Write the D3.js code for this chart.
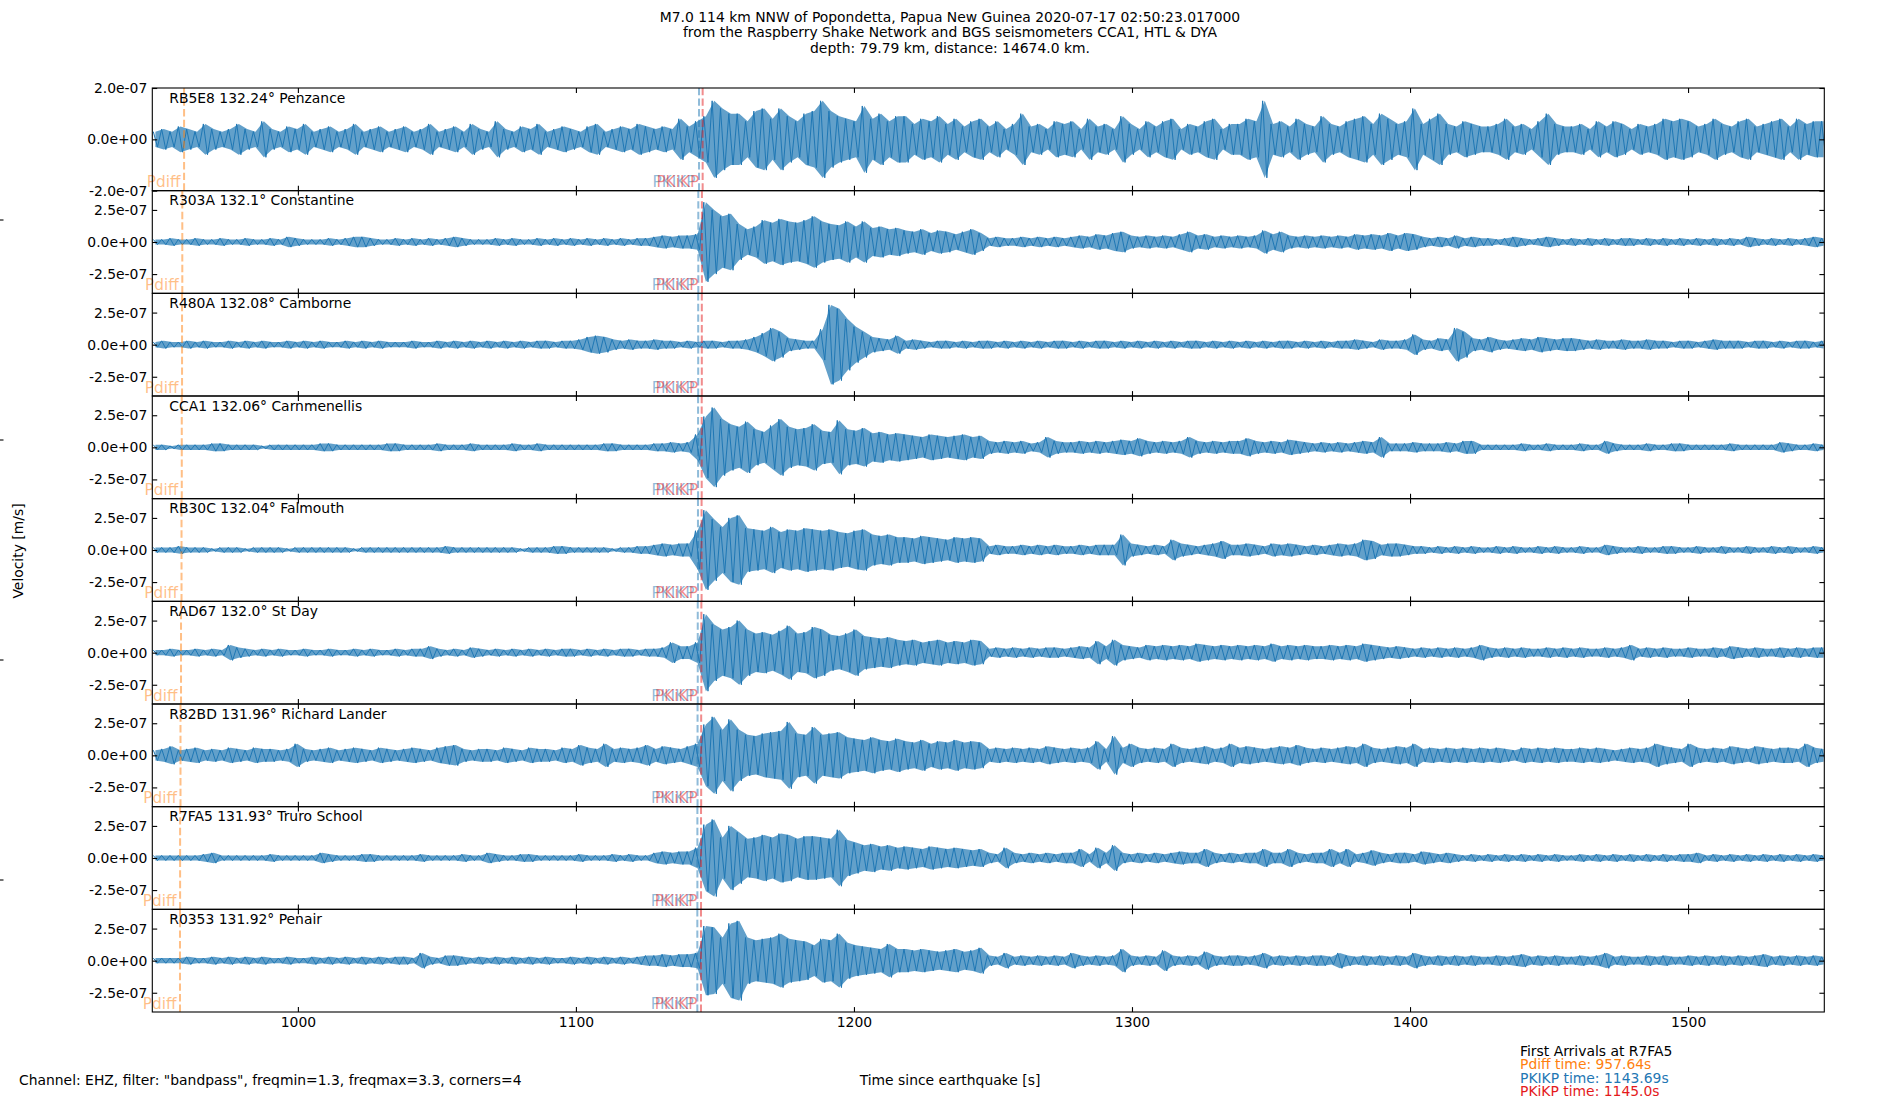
<!DOCTYPE html>
<html>
<head>
<meta charset="utf-8">
<script src="https://cdn.jsdelivr.net/npm/d3@7"></script>
<style>
  body { margin: 0; background: #fff; }
  svg text { font-family: "DejaVu Sans", sans-serif; font-size: 13.9px; }
</style>
</head>
<body>
<script>
// Stations, top to bottom
const stationLabels = [
    'RB5E8 132.24° Penzance', 'R303A 132.1° Constantine', 'R480A 132.08° Camborne',
    'CCA1 132.06° Carnmenellis', 'RB30C 132.04° Falmouth', 'RAD67 132.0° St Day',
    'R82BD 131.96° Richard Lander', 'R7FA5 131.93° Truro School', 'R0353 131.92° Penair'
];

// Arrival times per station [s]
const pdiffTimes = [959.07, 958.43, 958.34, 958.24, 958.15, 957.97, 957.78, 957.64, 957.60];
const pkikpTimes = [1144.28, 1144.02, 1143.98, 1143.94, 1143.90, 1143.82, 1143.75, 1143.69, 1143.67];
const pkikpRedTimes = [1145.58, 1145.32, 1145.28, 1145.24, 1145.20, 1145.12, 1145.05, 1145.0, 1144.98];

// y limits and ticks [m/s]
const yLimits = [2e-7, 4e-7, 4e-7, 4e-7, 4e-7, 4e-7, 4e-7, 4e-7, 4e-7];
const yTicksFirst = [-2e-7, 0, 2e-7];
const yTicksOther = [-2.5e-7, 0, 2.5e-7];
const xTicks = [1000, 1100, 1200, 1300, 1400, 1500];

// Trace envelope, peak amplitude per 3 s bin starting at 948 s, in units of 1e-8 m/s
const binStart = 948;
const binStep = 3;
const ampUnit = 1e-8;

const ampRB5E8 = [
    3,4,3,5,4,3,6,4,3,4, 6,4,3,7,4,3,5,4,6,3, 4,5,3,4,6,3,4,5,3,4, 5,3,4,6,3,4,5,3,6,4,
    3,7,4,3,5,4,6,3,4,5, 4,3,5,6,3,4,5,4,6,5, 4,5,4,8,5,7,9,15,12,10, 10,7,11,12,8,12,9,7,10,11,
    15,11,9,8,7,13,8,10,7,9, 9,6,8,7,9,6,8,5,7,8, 5,7,4,6,10,5,6,4,7,6, 7,4,8,5,6,4,9,6,4,7,
    5,7,8,4,6,5,7,8,4,6, 6,8,7,15,6,7,5,8,6,5, 9,6,5,7,8,9,6,10,8,6, 7,12,6,8,10,6,5,7,6,5,
    5,6,8,5,6,4,7,10,6,5, 5,6,4,7,5,7,6,4,6,5, 6,8,7,8,7,5,6,8,6,5, 7,8,5,6,7,8,5,8,6,7, 7
];
const ampR303A = [
    2,2,3,2,2,3,2,2,3,2, 2,3,2,2,3,2,4,3,2,2, 2,3,2,3,4,4,3,2,2,3, 2,3,2,3,2,3,4,3,2,2,
    2,3,2,3,2,2,3,2,3,2, 3,2,3,2,3,2,3,2,3,3, 4,5,4,5,5,6,31,25,20,22, 14,10,12,17,15,18,16,15,17,20,
    16,14,13,16,12,16,11,12,10,11, 9,8,10,7,9,8,6,8,10,7, 3,4,3,3,4,3,4,3,4,3, 4,5,4,6,5,7,8,5,4,5,
    4,5,4,6,8,5,6,4,5,4, 5,4,5,9,6,8,5,4,5,4, 5,4,5,4,6,5,6,5,7,5, 7,6,4,3,4,3,5,3,4,3,
    3,2,3,4,3,2,3,4,3,2, 3,2,3,2,3,2,3,3,2,3, 2,3,2,3,2,3,2,3,2,3, 2,4,3,2,3,2,3,2,3,4, 3
];
const ampR480A = [
    2,3,2,2,3,2,3,2,2,3, 2,3,2,3,2,2,3,2,3,2, 3,2,2,3,2,3,2,3,2,2, 2,3,2,2,3,2,3,2,3,2,
    3,2,3,2,3,2,3,3,2,3, 3,4,6,7,6,4,3,4,3,3, 4,3,3,2,3,2,3,3,2,3, 3,4,6,9,13,10,5,4,3,3,
    12,31,28,20,14,10,6,5,4,7, 3,4,3,2,3,3,2,3,2,3, 3,2,3,2,3,2,3,2,3,3, 2,3,2,3,3,2,3,2,3,2,
    3,2,3,2,3,3,2,3,2,3, 2,3,2,3,2,3,3,2,3,2, 3,2,3,3,4,3,2,4,3,3, 4,8,4,3,5,4,13,10,5,4,
    6,4,3,4,5,4,6,5,4,5, 5,4,3,4,3,3,4,3,3,4, 3,3,2,3,3,2,3,4,3,3, 3,2,3,3,2,3,2,3,3,2, 3
];
const ampCCA1 = [
    2,2,1,2,2,2,2,3,3,2, 2,2,2,1,2,2,2,2,2,2, 3,3,2,2,2,2,2,2,3,3, 2,2,2,2,3,2,2,2,3,2,
    2,2,2,3,2,2,3,2,2,2, 2,2,2,2,3,3,2,2,2,2, 3,3,4,3,4,10,24,31,22,18, 16,20,14,12,17,22,16,14,15,18,
    13,12,21,14,13,15,11,12,10,11, 10,9,8,10,9,8,9,10,8,9, 5,4,5,4,5,3,4,8,5,4, 4,5,4,5,4,5,6,5,7,5,
    4,5,4,5,8,5,4,5,4,5, 5,7,5,4,5,4,6,5,4,3, 4,3,4,3,4,5,4,8,3,3, 3,4,3,3,3,4,3,5,5,2,
    2,2,2,2,3,2,2,3,2,2, 2,3,2,2,5,3,2,2,2,3, 2,2,3,3,2,2,2,2,2,3, 2,2,2,2,2,4,3,2,2,3, 2
];
const ampRB30C = [
    2,2,2,3,2,2,2,1,2,2, 2,1,2,2,2,2,1,2,2,2, 2,2,2,2,1,2,2,2,2,2, 2,2,2,2,2,3,2,2,2,2,
    2,2,2,2,1,2,2,2,3,3, 2,2,2,2,2,1,2,2,3,3, 4,5,4,5,5,15,31,24,18,25, 27,17,16,15,18,14,16,15,17,16,
    15,16,14,13,15,16,12,11,12,10, 10,9,11,10,9,8,10,9,10,9, 3,4,3,3,4,3,4,3,4,3, 3,4,3,4,4,4,12,5,4,3,
    4,3,8,5,4,3,4,5,7,4, 4,5,4,3,5,4,5,4,3,4, 3,4,5,4,5,8,7,4,5,5, 4,3,3,2,3,2,3,2,3,2,
    2,3,2,3,2,2,3,2,3,2, 2,3,2,2,4,3,2,2,3,2, 2,3,3,2,2,3,2,2,3,2, 2,3,2,2,3,2,3,2,2,3, 2
];
const ampRAD67 = [
    2,2,3,2,2,3,2,3,2,6, 4,3,2,3,2,3,2,2,3,2, 2,3,2,2,3,2,3,2,2,3, 2,3,3,5,3,2,3,2,4,3,
    2,3,2,3,2,3,2,3,2,3, 3,2,3,2,3,2,3,3,2,3, 3,4,8,5,5,8,30,22,18,20, 25,18,15,16,14,17,21,15,16,20,
    18,14,13,15,18,13,12,11,12,10, 9,10,8,9,10,8,9,8,10,9, 3,4,3,4,3,4,3,4,4,3, 4,5,4,9,5,10,6,5,4,6,
    5,6,5,6,5,7,6,5,6,5, 6,5,6,5,7,5,6,5,6,5, 5,6,5,6,5,7,6,5,4,5, 4,3,4,3,4,3,4,3,4,6,
    4,3,4,3,4,3,3,4,3,4, 3,4,3,3,4,3,4,6,3,4, 3,4,3,3,4,3,3,4,3,5, 4,3,4,3,3,4,3,4,3,4, 4
];
const ampR82BD = [
    4,5,7,4,5,6,4,5,4,6, 5,4,6,5,5,4,5,9,5,4, 5,6,4,5,6,5,4,6,5,4, 5,6,5,4,6,7,8,5,4,5,
    5,4,6,5,4,6,5,5,4,6, 5,8,6,5,9,5,6,5,6,8, 5,7,6,5,7,9,24,30,20,28, 20,16,15,17,18,19,26,17,16,22,
    16,17,18,14,13,12,14,12,11,13, 11,10,12,9,11,10,12,10,11,10, 5,6,5,6,5,6,5,7,6,5, 6,5,6,11,5,15,6,9,6,5,
    6,5,9,6,5,6,7,5,6,9, 6,7,6,5,6,7,6,8,6,5, 6,5,6,7,6,9,6,5,6,7, 6,9,5,6,5,6,5,6,5,6,
    5,6,5,4,6,5,6,5,6,5, 5,6,5,6,5,4,5,6,5,6, 9,7,6,5,9,6,5,6,5,7, 6,5,7,6,5,6,6,5,9,6, 5
];
const ampR7FA5 = [
    2,2,2,2,2,2,3,4,2,2, 2,2,2,2,3,2,2,2,2,2, 4,3,2,2,2,3,3,2,2,2, 2,2,3,2,2,2,2,3,2,2,
    4,3,2,2,3,3,2,2,2,2, 2,3,2,2,2,3,2,3,2,2, 4,5,4,5,5,8,26,30,16,25, 20,15,16,18,16,19,18,15,17,17,
    16,15,22,14,12,10,11,9,10,8, 9,8,7,9,8,7,8,7,6,7, 4,3,8,4,3,4,3,4,3,4, 4,7,3,8,4,10,4,3,4,3,
    4,3,4,5,4,4,7,4,3,4, 3,4,4,7,4,4,7,4,3,4, 4,7,4,7,3,4,6,4,3,4, 4,3,5,4,3,4,3,2,3,2,
    3,2,3,2,3,2,3,2,3,2, 2,3,2,3,2,3,2,3,2,3, 2,3,2,3,3,4,2,3,2,3, 2,3,2,3,2,3,2,3,2,3, 2
];
const ampR0353 = [
    2,2,2,2,3,2,2,3,2,3, 2,3,2,3,2,2,3,2,2,3, 2,3,2,3,2,3,2,3,2,3, 3,2,6,3,2,4,4,3,2,3,
    2,3,2,3,2,3,2,3,2,2, 3,2,3,2,3,2,3,2,3,4, 4,5,4,5,5,6,27,26,18,29, 31,18,16,17,18,21,17,16,15,12,
    17,16,21,14,12,11,10,9,13,9, 9,8,9,8,7,8,9,7,8,10, 4,3,6,3,4,3,4,3,4,3, 6,4,3,4,3,4,9,4,3,4,
    3,8,4,3,4,3,7,4,3,4, 4,3,4,6,3,4,3,4,3,4, 4,3,6,4,3,4,3,4,3,4, 3,6,4,3,4,3,4,3,4,3,
    3,4,3,4,5,3,4,3,4,3, 3,4,3,4,6,3,4,3,3,4, 3,4,3,3,4,3,4,3,4,3, 4,3,4,5,3,4,3,4,3,4, 3
];
const traces = [ampRB5E8, ampR303A, ampR480A, ampCCA1, ampRB30C, ampRAD67, ampR82BD, ampR7FA5, ampR0353];

// Figure layout
const width = 1900;
const height = 1100;
const plotLeft = 152.3, plotRight = 1824.3, plotTop = 88, plotBottom = 1012;
const panelH = (plotBottom - plotTop) / traces.length;
const tickLen = 4.9;

const blue = '#1f77b4', orange = '#ff7f0e', red = '#e41a1c';

const svg = d3.select('body')
    .append('svg')
    .attr('width', width)
    .attr('height', height);

const x = d3.scaleLinear()
    .domain([947.64, 1549])
    .range([plotLeft, plotRight]);

// matplotlib style %.1e
function sci(v) {
    const [m, e] = v.toExponential(1).split('e');
    const sign = e[0] === '-' ? '-' : '+';
    return m + 'e' + sign + e.replace(/[+-]/, '').padStart(2, '0');
}

const defs = svg.append('defs');

traces.forEach((amps, i) => {
    const g = svg.append('g')
        .attr('transform', `translate(0,${plotTop + i * panelH})`);

    const lim = yLimits[i];
    const y = d3.scaleLinear()
        .domain([-lim, lim])
        .range([panelH, 0]);

    defs.append('clipPath')
        .attr('id', 'clip' + i)
        .append('rect')
        .attr('x', plotLeft)
        .attr('y', 0)
        .attr('width', plotRight - plotLeft)
        .attr('height', panelH);

    const bins = amps.map((a, k) => ({ t: binStart + k * binStep, a: a * ampUnit }));
    const trace = g.append('g').attr('clip-path', `url(#clip${i})`);

    // filled envelope band
    const band = d3.area()
        .x(d => x(d.t + binStep / 4))
        .y0(d => y(-d.a))
        .y1(d => y(d.a));
    trace.append('path')
        .attr('d', band(bins))
        .attr('fill', blue)
        .attr('fill-opacity', 0.7);

    // min/max strokes per bin
    const pts = [];
    bins.forEach(d => {
        pts.push([d.t, d.a]);
        pts.push([d.t + binStep / 2, -d.a]);
    });
    const line = d3.line()
        .x(d => x(d[0]))
        .y(d => y(d[1]));
    trace.append('path')
        .attr('d', line(pts))
        .attr('fill', 'none')
        .attr('stroke', blue)
        .attr('stroke-width', 1);

    // arrival lines
    const phases = [
        { t: pdiffTimes[i], color: orange, name: 'Pdiff' },
        { t: pkikpTimes[i], color: blue, name: 'PKIKP' },
        { t: pkikpRedTimes[i], color: red, name: 'PKiKP' }
    ];
    phases.forEach(p => {
        g.append('line')
            .attr('x1', x(p.t)).attr('x2', x(p.t))
            .attr('y1', panelH).attr('y2', 0)
            .attr('stroke', p.color)
            .attr('stroke-opacity', 0.5)
            .attr('stroke-width', 2)
            .attr('stroke-dasharray', '7.4,3.2');
    });
    phases.forEach(p => {
        g.append('text')
            .attr('x', x(p.t) - 3.5)
            .attr('y', panelH - 3.4)
            .attr('text-anchor', 'end')
            .attr('fill', p.color)
            .attr('fill-opacity', 0.5)
            .style('font-size', '15.3px')
            .text(p.name);
    });

    // axes, ticks pointing in
    const yTicks = i === 0 ? yTicksFirst : yTicksOther;
    const cleanAxis = sel => {
        sel.select('.domain').remove();
        sel.selectAll('line').attr('stroke-width', 1.1);
    };
    g.append('g')
        .attr('transform', `translate(0,${panelH})`)
        .call(d3.axisBottom(x).tickValues(xTicks).tickSizeInner(-tickLen).tickSizeOuter(0)
            .tickPadding(5.5).tickFormat(i === traces.length - 1 ? d3.format('d') : ''))
        .call(cleanAxis);
    g.append('g')
        .call(d3.axisTop(x).tickValues(xTicks).tickSizeInner(-tickLen).tickSizeOuter(0).tickFormat(''))
        .call(cleanAxis);
    g.append('g')
        .attr('transform', `translate(${plotLeft},0)`)
        .call(d3.axisLeft(y).tickValues(yTicks).tickSizeInner(-tickLen).tickSizeOuter(0)
            .tickPadding(5).tickFormat(sci))
        .call(cleanAxis);
    g.append('g')
        .attr('transform', `translate(${plotRight},0)`)
        .call(d3.axisRight(y).tickValues(yTicks).tickSizeInner(-tickLen).tickSizeOuter(0).tickFormat(''))
        .call(cleanAxis);
    g.selectAll('.tick text').attr('fill', '#000');

    // frame
    g.append('rect')
        .attr('x', plotLeft).attr('y', 0)
        .attr('width', plotRight - plotLeft).attr('height', panelH)
        .attr('fill', 'none')
        .attr('stroke', '#000')
        .attr('stroke-width', 1.1);

    g.append('text')
        .attr('x', plotLeft + 17)
        .attr('y', 14.7)
        .text(stationLabels[i]);
});

// Title
const titleLines = [
    'M7.0 114 km NNW of Popondetta, Papua New Guinea 2020-07-17 02:50:23.017000',
    'from the Raspberry Shake Network and BGS seismometers CCA1, HTL & DYA',
    'depth: 79.79 km, distance: 14674.0 km.'
];
svg.append('g').selectAll('text')
    .data(titleLines)
    .enter()
    .append('text')
    .attr('x', width / 2)
    .attr('y', (d, k) => 21.5 + k * 15.8)
    .attr('text-anchor', 'middle')
    .text(d => d);

// Shared y label and the bare ticks of the background axes
svg.append('text')
    .attr('transform', 'translate(22.5,551) rotate(-90)')
    .attr('text-anchor', 'middle')
    .text('Velocity [m/s]');
const yFig = d3.scaleLinear().domain([0, 1]).range([height, 0]);
svg.append('g')
    .selectAll('line')
    .data([0.2, 0.4, 0.6, 0.8])
    .enter()
    .append('line')
    .attr('x1', 0).attr('x2', 3.5)
    .attr('y1', d => yFig(d)).attr('y2', d => yFig(d))
    .attr('stroke', '#000')
    .attr('stroke-width', 1.1);

svg.append('text')
    .attr('x', width / 2)
    .attr('y', 1085)
    .attr('text-anchor', 'middle')
    .text('Time since earthquake [s]');

svg.append('text')
    .attr('x', 19)
    .attr('y', 1085)
    .text('Channel: EHZ, filter: "bandpass", freqmin=1.3, freqmax=3.3, corners=4');

// First arrivals box
const arrivalLines = [
    { text: 'First Arrivals at R7FA5', color: '#000' },
    { text: 'Pdiff time: 957.64s', color: orange },
    { text: 'PKIKP time: 1143.69s', color: blue },
    { text: 'PKiKP time: 1145.0s', color: red }
];
svg.append('g').selectAll('text')
    .data(arrivalLines)
    .enter()
    .append('text')
    .attr('x', 1520)
    .attr('y', (d, k) => 1055.7 + k * 13.5)
    .attr('fill', d => d.color)
    .text(d => d.text);
</script>
</body>
</html>
